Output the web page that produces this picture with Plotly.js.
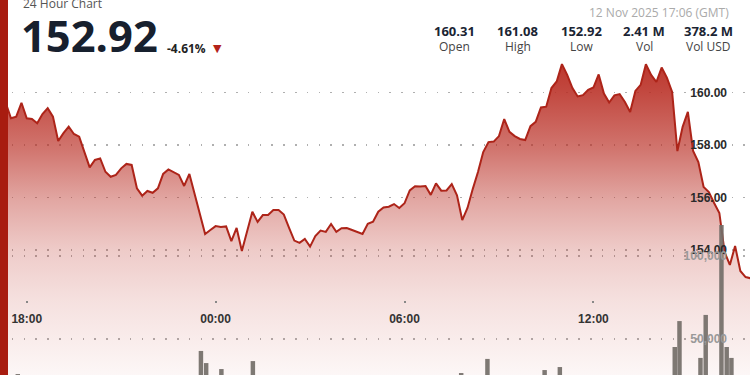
<!DOCTYPE html>
<html><head><meta charset="utf-8">
<script src="https://cdn.plot.ly/plotly-3.0.1.min.js"></script>
<style>html,body{margin:0;padding:0;background:#fff;} #chart{width:750px;height:375px;}</style>
</head><body><div id="chart"></div>
<script>
// ---- data ----
const priceStart = '2025-11-11 17:10';
const priceStepMs = 600000; // 10-minute points
const prices = [
  159.90,159.60,159.02,159.08,159.61,
  159.02,158.99,158.83,159.18,159.40,159.08,158.15,158.45,158.70,158.42,
  158.32,157.73,157.15,157.43,157.49,156.98,156.79,156.86,157.11,157.28,
  157.24,156.35,156.07,156.25,156.18,156.35,156.90,157.07,156.95,156.86,
  156.44,156.90,156.13,155.33,154.61,154.76,154.91,154.88,154.90,154.34,
  154.84,153.96,154.72,155.46,155.07,155.33,155.33,155.52,155.52,155.35,
  154.84,154.36,154.27,154.42,154.13,154.53,154.74,154.69,154.99,154.69,
  154.83,154.84,154.76,154.69,154.61,155.00,155.08,155.46,155.62,155.65,
  155.75,155.60,155.78,156.27,156.43,156.42,156.44,156.10,156.54,156.26,
  156.27,156.51,156.08,155.14,155.60,156.32,156.97,157.73,158.11,158.13,
  158.34,158.99,158.50,158.34,158.23,158.19,158.72,158.88,159.43,159.46,
  160.17,160.42,161.08,160.67,160.17,159.85,159.90,160.10,160.19,160.69,
  159.96,159.62,159.89,159.94,159.64,159.26,160.06,160.29,161.08,160.67,
  160.40,160.95,160.57,160.02,157.77,158.69,159.26,157.77,157.35,156.40,
  156.21,155.79,155.41,153.92,153.43,154.15,153.20,152.97,152.92
];
const volTimes = [
  '2025-11-11 17:43','2025-11-11 23:32','2025-11-11 23:42','2025-11-12 00:11',
  '2025-11-12 01:11','2025-11-12 07:48','2025-11-12 08:38','2025-11-12 10:27',
  '2025-11-12 10:56','2025-11-12 14:35','2025-11-12 14:44','2025-11-12 15:24',
  '2025-11-12 15:34','2025-11-12 16:04','2025-11-12 16:14','2025-11-12 16:23'
];
const volValues = [28900,42800,35500,31900,36700,29500,38000,31300,33100,45200,60800,38600,64500,118700,45200,38600];
const priceTicks = [154, 156, 158, 160];
const priceTickText = ['154.00', '156.00', '158.00', '160.00'];
const volTicks = [50000, 100000];
const volTickText = ['50,000', '100,000'];
const timeTick0 = '2025-11-11 18:00';
const timeRange = ['2025-11-11 17:09:05', '2025-11-12 16:58:24'];
const lastPrice = '152.92';
const changeText = '-4.61%';
const titleText = '24 Hour Chart';
const dateText = '12 Nov 2025 17:06 (GMT)';
const statValues = ['160.31', '161.08', '152.92', '2.41 M', '378.2 M'];
const statLabels = ['Open', 'High', 'Low', 'Vol', 'Vol USD'];

// ---- layout helpers ----
const W = 750, H = 375;
const px = v => v / W;
const py = v => 1 - v / H;
const statCenters = [454.5, 517.5, 581.5, 644, 708];
const OS = 'Open Sans, Noto Sans, sans-serif';
const AR = 'Liberation Sans, Arial, sans-serif';

const priceTrace = {
  type: 'scatter', mode: 'lines',
  x0: priceStart, dx: priceStepMs, y: prices,
  line: {color: '#ad2419', width: 2},
  fill: 'tozeroy',
  fillgradient: {
    type: 'vertical', start: 149.24, stop: 161.1,
    colorscale: [
      [0, 'rgba(190,50,40,0.04)'],
      [0.24, 'rgba(190,50,40,0.15)'],
      [0.40, 'rgba(188,48,38,0.25)'],
      [0.56, 'rgba(186,46,36,0.42)'],
      [0.72, 'rgba(185,45,35,0.65)'],
      [0.92, 'rgba(185,45,35,0.88)'],
      [1, 'rgba(185,45,35,0.95)']
    ]
  },
  hoverinfo: 'skip'
};
const volTrace = {
  type: 'bar', x: volTimes, y: volValues, yaxis: 'y2',
  width: 510000,
  marker: {color: 'rgba(115,110,104,0.92)', line: {width: 0}},
  hoverinfo: 'skip'
};

const gridDash = '1.5px,10.3px';
const annotations = [
  {text: titleText, x: px(21), y: py(3), xanchor: 'left', yanchor: 'middle',
   font: {family: OS, size: 12, color: '#555'}},
  {text: lastPrice, x: px(19), y: py(36), xanchor: 'left', yanchor: 'middle',
   font: {family: OS, size: 43.5, color: '#17202e', weight: 'bold'}},
  {text: changeText, x: px(165), y: py(48), xanchor: 'left', yanchor: 'middle',
   font: {family: OS, size: 12, color: '#222', weight: 'bold'}},
  {text: '▼', x: px(217), y: py(48), xanchor: 'center', yanchor: 'middle',
   font: {family: 'DejaVu Sans', size: 11, color: '#b3231a'}},
  {text: dateText, x: px(731), y: py(12), xanchor: 'right', yanchor: 'middle',
   font: {family: OS, size: 12, color: '#aaa'}}
];
statValues.forEach((v, i) => annotations.push({
  text: v, x: px(statCenters[i]), y: py(30.5), xanchor: 'center', yanchor: 'middle',
  font: {family: OS, size: 13, color: '#1a2433', weight: 'bold'}
}));
statLabels.forEach((v, i) => annotations.push({
  text: v, x: px(statCenters[i]), y: py(46.5), xanchor: 'center', yanchor: 'middle',
  font: {family: OS, size: 12, color: '#444'}
}));
annotations.forEach(a => { a.xref = 'paper'; a.yref = 'paper'; a.showarrow = false; });

const layout = {
  width: W, height: H,
  margin: {l: 0, r: 0, t: 0, b: 0, pad: 0},
  paper_bgcolor: '#fff', plot_bgcolor: '#fff',
  showlegend: false,
  xaxis: {
    type: 'date', range: timeRange, anchor: 'free', position: 0.2,
    tick0: timeTick0, dtick: 6 * 3600 * 1000, tickformat: '%H:%M',
    ticks: 'outside', ticklen: 2, tickwidth: 2, tickcolor: '#888',
    ticklabelstandoff: 6,
    showgrid: false, zeroline: false, showline: false, fixedrange: true,
    tickfont: {family: AR, size: 12, color: '#333', weight: 'bold'}
  },
  yaxis: {
    range: [149.238, 163.524], side: 'right',
    tickvals: priceTicks, ticktext: priceTickText,
    ticklabelposition: 'inside', ticklabelstandoff: 20, ticks: '',
    showgrid: true, gridcolor: 'rgba(110,110,110,0.55)', gridwidth: 1.5, griddash: gridDash,
    zeroline: false, showline: false, fixedrange: true,
    tickfont: {family: AR, size: 12, color: '#2a2a2a', weight: 'bold'}
  },
  yaxis2: {
    overlaying: 'y', side: 'right', range: [28313, 254217],
    tickvals: volTicks, ticktext: volTickText,
    ticklabelposition: 'inside', ticklabelstandoff: 20, ticks: '',
    showgrid: true, gridcolor: 'rgba(110,110,110,0.55)', gridwidth: 1.5, griddash: gridDash,
    zeroline: false, showline: false, fixedrange: true,
    tickfont: {family: AR, size: 12, color: '#999', weight: 'bold'}
  },
  shapes: [{type: 'rect', xref: 'paper', yref: 'paper', x0: 0, x1: px(8), y0: 0, y1: 1,
            fillcolor: '#a81c10', line: {width: 0}, layer: 'above'}],
  annotations: annotations
};

Plotly.newPlot('chart', [priceTrace, volTrace], layout, {displayModeBar: false, staticPlot: true});
</script>
</body></html>
